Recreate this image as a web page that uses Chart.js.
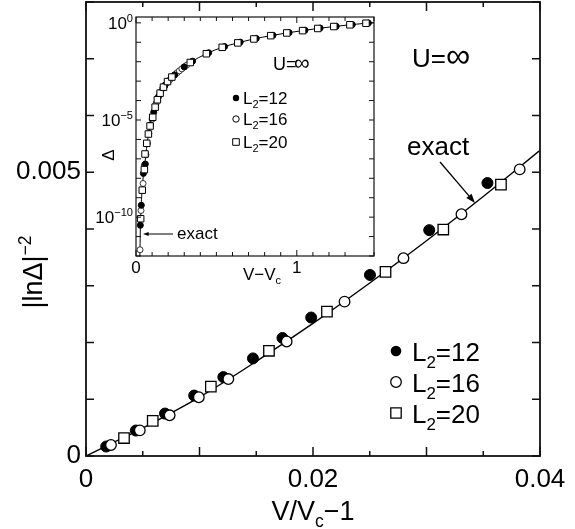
<!DOCTYPE html>
<html>
<head>
<meta charset="utf-8">
<script src="https://cdn.jsdelivr.net/npm/chart.js@4.4.1/dist/chart.umd.min.js"></script>
<style>
  html, body { margin: 0; padding: 0; background: #fff; }
  #wrap { position: relative; width: 575px; height: 529px; }
  #main { position: absolute; left: 0; top: 0; }
  #inset { position: absolute; left: 86px; top: 0; }
</style>
</head>
<body>
<div id="wrap">
  <canvas id="main" width="575" height="529"></canvas>
  <canvas id="inset" width="300" height="290"></canvas>
</div>
<script>
const FONT = '"Liberation Sans", Arial, Helvetica, sans-serif';

// ---- main panel: |ln Δ|^-2 against V/Vc - 1
const mainXLabelVals = [0, 0.02, 0.04];
const mainXLabels    = ['0', '0.02', '0.04'];
const mainYLabelVals = [0, 0.005];
const mainYLabels    = ['0', '0.005'];

const exactX = [0, 0.0025, 0.005, 0.01, 0.015, 0.02, 0.025, 0.03, 0.035, 0.04];
const exactY = [0, 0.000246, 0.000493, 0.001037, 0.001667, 0.002336, 0.003048, 0.003794, 0.004572, 0.005387];

const l12X = [0.00178, 0.00439, 0.00696, 0.00953, 0.0121, 0.01471, 0.01731, 0.01984, 0.02502, 0.03024, 0.03537];
const l12Y = [0.000167, 0.000449, 0.000748, 0.001065, 0.00139, 0.00172, 0.00208, 0.00244, 0.00319, 0.00398, 0.00481];

const l16X = [0.0022, 0.00474, 0.00737, 0.00994, 0.01254, 0.01768, 0.02278, 0.02797, 0.03308, 0.03821];
const l16Y = [0.000194, 0.000452, 0.000717, 0.001035, 0.001356, 0.002018, 0.00272, 0.003486, 0.00426, 0.00505];

const l20X = [0.00335, 0.00588, 0.011, 0.01612, 0.02123, 0.02639, 0.03148, 0.03656];
const l20Y = [0.000317, 0.00062, 0.001222, 0.001854, 0.002544, 0.003245, 0.003991, 0.004783];

// ---- inset: Δ (log) against V - Vc
const insetXLabelVals = [0, 1];
const insetXLabels    = ['0', '1'];
const insetYTicks = [1e-12, 1e-11, 1e-10, 1e-9, 1e-8, 1e-7, 1e-6, 1e-5, 1e-4, 1e-3, 1e-2, 1e-1, 1];
const insetYLabelVals = [1, 1e-5, 1e-10];
const insetYLabelExp  = ['0', '−5', '−10'];

const inExactX = [0.024, 0.025, 0.027, 0.029, 0.031, 0.034, 0.039, 0.045, 0.052, 0.06, 0.067, 0.077, 0.0875,
  0.104, 0.119, 0.133, 0.15, 0.171, 0.196, 0.223, 0.26, 0.3, 0.3375, 0.4375, 0.536, 0.633, 0.733, 0.8375,
  0.9375, 1.036, 1.13, 1.23, 1.33, 1.43, 1.48];
const inExactY = [1e-12, 2.5e-12, 2.5e-11, 8.3e-11, 2.5e-10, 7.9e-10, 3.2e-9, 1.26e-8, 4.0e-8, 1.26e-7, 4.5e-7,
  1.58e-6, 4.5e-6, 1.58e-5, 5.0e-5, 1.1e-4, 2.5e-4, 5.0e-4, 9.5e-4, 1.62e-3, 3.0e-3, 5.4e-3, 9.1e-3, 2.57e-2,
  5.5e-2, 0.093, 0.148, 0.219, 0.302, 0.398, 0.513, 0.646, 0.794, 0.955, 1.02];

const in12X = [0.027, 0.033, 0.046, 0.058, 0.07, 0.09, 0.11, 0.14, 0.18, 0.24, 0.30, 0.352, 0.452, 0.551,
  0.648, 0.748, 0.852, 0.952, 1.051, 1.145, 1.245, 1.345, 1.445];
const in12Y = [3.8e-11, 4.1e-10, 1.78e-8, 5.4e-8, 6.3e-7, 5.6e-6, 2.5e-5, 1.6e-4, 6.0e-4, 2.1e-3, 5.4e-3,
  1.07e-2, 2.9e-2, 6.0e-2, 0.102, 0.158, 0.229, 0.316, 0.417, 0.537, 0.661, 0.813, 0.977];

const in16X = [0.025, 0.031, 0.044, 0.052, 0.062, 0.08, 0.10, 0.125, 0.15, 0.165, 0.18, 0.195, 0.21, 0.225,
  0.24, 0.255, 0.27, 0.285, 0.30, 0.315];
const in16Y = [2.1e-12, 2.2e-10, 5.4e-9, 4.8e-8, 1.6e-7, 2.0e-6, 1.1e-5, 7.1e-5, 2.6e-4, 4.2e-4, 6.2e-4,
  8.7e-4, 1.17e-3, 1.62e-3, 2.1e-3, 2.7e-3, 3.4e-3, 4.3e-3, 5.4e-3, 6.6e-3];

const in20X = [0.029, 0.039, 0.052, 0.056, 0.067, 0.077, 0.0875, 0.104, 0.119, 0.133, 0.15, 0.171, 0.196,
  0.223, 0.3375, 0.4375, 0.536, 0.633, 0.733, 0.8375, 0.9375, 1.036, 1.13, 1.23, 1.33, 1.43];
const in20Y = [8.3e-11, 2.45e-9, 2.8e-8, 1.78e-7, 6.3e-7, 1.9e-6, 4.9e-6, 1.38e-5, 4.57e-5, 1.1e-4, 2.4e-4,
  4.9e-4, 9.5e-4, 1.62e-3, 9.1e-3, 2.57e-2, 5.5e-2, 0.093, 0.148, 0.219, 0.302, 0.398, 0.513, 0.646, 0.794, 0.955];

const pts = (xs, ys) => xs.map((x, i) => ({ x, y: ys[i] }));
const pick = (vals, labels) => v => {
  const i = vals.findIndex(t => Math.abs(t - v) < 1e-9);
  return i >= 0 ? labels[i] : '';
};

// pin the plot box to fixed pixels after Chart.js has done its layout
function pinArea(box) {
  return {
    id: 'pinArea',
    afterLayout(chart) {
      const a = chart.chartArea, { x, y } = chart.scales;
      Object.assign(a, box, { width: box.right - box.left, height: box.bottom - box.top });
      x.left = box.left; x.right = box.right; x.width = box.right - box.left;
      x.top = box.bottom; x.bottom = chart.height; x.height = x.bottom - x.top;
      y.left = 0; y.right = box.left; y.width = box.left;
      y.top = box.top; y.bottom = box.bottom; y.height = box.bottom - box.top;
      x.configure();
      y.configure();
    }
  };
}

// text with sub/superscripts: parts = [[text, 'sub'|'sup'|undefined], ...]
function rich(ctx, parts, x, y, size, align) {
  const small = size * 0.65;
  let w = 0;
  parts.forEach(([t, k]) => {
    ctx.font = `${k ? small : size}px ${FONT}`;
    w += ctx.measureText(t).width;
  });
  let cx = align === 'center' ? x - w / 2 : align === 'right' ? x - w : x;
  ctx.textAlign = 'left';
  ctx.textBaseline = 'alphabetic';
  parts.forEach(([t, k]) => {
    ctx.font = `${k ? small : size}px ${FONT}`;
    const dy = k === 'sub' ? size * 0.25 : k === 'sup' ? -size * 0.42 : 0;
    ctx.fillText(t, cx, y + dy);
    cx += ctx.measureText(t).width;
  });
}

function arrow(ctx, x1, y1, x2, y2, head, lw) {
  const a = Math.atan2(y2 - y1, x2 - x1);
  ctx.lineWidth = lw;
  ctx.beginPath();
  ctx.moveTo(x1, y1);
  ctx.lineTo(x2 - Math.cos(a) * head * 0.8, y2 - Math.sin(a) * head * 0.8);
  ctx.stroke();
  ctx.beginPath();
  ctx.moveTo(x2, y2);
  ctx.lineTo(x2 - head * Math.cos(a - 0.35), y2 - head * Math.sin(a - 0.35));
  ctx.lineTo(x2 - head * Math.cos(a + 0.35), y2 - head * Math.sin(a + 0.35));
  ctx.closePath();
  ctx.fill();
}

function marker(ctx, kind, x, y, r) {
  ctx.beginPath();
  if (kind === 'rect') ctx.rect(x - r, y - r, 2 * r, 2 * r);
  else ctx.arc(x, y, r, 0, Math.PI * 2);
  if (kind === 'filled') { ctx.fillStyle = '#000'; ctx.fill(); }
  else { ctx.fillStyle = '#fff'; ctx.fill(); ctx.stroke(); }
}

// frame round the plot area and inward ticks on all four sides
function frameTicks(o) {
  return {
    id: 'frameTicks',
    beforeDraw(chart) {
      if (!o.fill) return;
      const a = chart.chartArea, ctx = chart.ctx;
      ctx.save();
      ctx.fillStyle = '#fff';
      ctx.fillRect(a.left, a.top, a.right - a.left, a.bottom - a.top);
      ctx.restore();
    },
    afterDraw(chart) {
      const { ctx, chartArea: a, scales } = chart;
      ctx.save();
      ctx.strokeStyle = '#111';
      ctx.lineWidth = o.frame;
      ctx.strokeRect(a.left, a.top, a.right - a.left, a.bottom - a.top);
      ctx.lineWidth = o.tick;
      ctx.beginPath();
      scales.x.ticks.forEach(t => {
        const px = scales.x.getPixelForValue(t.value), len = o.xLen(t.value);
        ctx.moveTo(px, a.bottom); ctx.lineTo(px, a.bottom - len);
        ctx.moveTo(px, a.top); ctx.lineTo(px, a.top + len);
      });
      scales.y.ticks.forEach(t => {
        const py = scales.y.getPixelForValue(t.value), len = o.yLen(t.value);
        ctx.moveTo(a.left, py); ctx.lineTo(a.left + len, py);
        ctx.moveTo(a.right, py); ctx.lineTo(a.right - len, py);
      });
      ctx.stroke();
      ctx.restore();
    }
  };
}

const mainText = {
  id: 'mainText',
  afterDraw(chart) {
    const ctx = chart.ctx;
    ctx.save();
    ctx.fillStyle = '#000';
    ctx.strokeStyle = '#000';
    rich(ctx, [['V/V'], ['c', 'sub'], ['−1']], 313, 520, 27, 'center');
    ctx.save();
    ctx.translate(42, 272);
    ctx.rotate(-Math.PI / 2);
    rich(ctx, [['|lnΔ|'], ['−2', 'sup']], 0, 0, 27, 'center');
    ctx.restore();

    ctx.font = `26px ${FONT}`;
    ctx.fillText('U=', 412, 67);
    ctx.font = `34px ${FONT}`;
    ctx.fillText('∞', 446, 67);

    ctx.font = `26px ${FONT}`;
    ctx.fillText('exact', 407, 155);
    arrow(ctx, 440, 162, 475, 203, 10, 1.3);

    const rows = [['filled', '12', 351], ['open', '16', 382], ['rect', '20', 413]];
    ctx.lineWidth = 1.3;
    rows.forEach(([k, n, y]) => {
      ctx.strokeStyle = '#000';
      marker(ctx, k, 396, y, k === 'rect' ? 5.2 : 5.3);
      ctx.fillStyle = '#000';
      rich(ctx, [['L'], ['2', 'sub'], ['=' + n]], 412, y + 10, 26, 'left');
    });
    ctx.restore();
  }
};

const insetText = {
  id: 'insetText',
  afterDraw(chart) {
    const ctx = chart.ctx, a = chart.chartArea, ys = chart.scales.y;
    ctx.save();
    ctx.fillStyle = '#000';
    ctx.strokeStyle = '#000';
    insetYLabelVals.forEach((v, i) => {
      const py = ys.getPixelForValue(v);
      rich(ctx, [['10'], [insetYLabelExp[i], 'sup']], a.left - 3, py + 6, 17, 'right');
    });
    const ox = -86;
    rich(ctx, [['V−V'], ['c', 'sub']], 262 + ox, 280, 17, 'center');
    ctx.save();
    ctx.translate(114 + ox, 155);
    ctx.rotate(-Math.PI / 2);
    ctx.font = `17px ${FONT}`;
    ctx.textAlign = 'center';
    ctx.fillText('Δ', 0, 0);
    ctx.restore();

    ctx.font = `18px ${FONT}`;
    ctx.fillText('U=', 273 + ox, 70);
    ctx.font = `22px ${FONT}`;
    ctx.fillText('∞', 294 + ox, 70);

    ctx.font = `17px ${FONT}`;
    ctx.fillText('exact', 177 + ox, 239);
    arrow(ctx, 173 + ox, 234, 143 + ox, 234, 6, 1);

    const rows = [['filled', '12', 98], ['open', '16', 119], ['rect', '20', 142]];
    ctx.lineWidth = 1;
    rows.forEach(([k, n, y]) => {
      ctx.strokeStyle = '#000';
      marker(ctx, k, 236 + ox, y, k === 'rect' ? 3.3 : 3.2);
      ctx.fillStyle = '#000';
      rich(ctx, [['L'], ['2', 'sub'], ['=' + n]], 243 + ox, y + 6, 17, 'left');
    });
    ctx.restore();
  }
};

new Chart(document.getElementById('main'), {
  type: 'scatter',
  data: {
    datasets: [
      { label: 'exact', data: pts(exactX, exactY), showLine: true, borderColor: '#000', borderWidth: 1.4,
        pointRadius: 0, cubicInterpolationMode: 'monotone', order: 4 },
      { label: 'L2=16', data: pts(l16X, l16Y), pointStyle: 'circle', pointRadius: 5.3,
        backgroundColor: '#fff', borderColor: '#000', borderWidth: 1.3, order: 1 },
      { label: 'L2=20', data: pts(l20X, l20Y), pointStyle: 'rect', pointRadius: 7.4,
        backgroundColor: '#fff', borderColor: '#000', borderWidth: 1.3, order: 2 },
      { label: 'L2=12', data: pts(l12X, l12Y), pointStyle: 'circle', pointRadius: 5.5,
        backgroundColor: '#000', borderColor: '#000', borderWidth: 1, order: 3 },
    ],
  },
  options: {
    responsive: false,
    animation: false,
    devicePixelRatio: 1,
    layout: { padding: { top: 2, right: 35, left: 0, bottom: 0 } },
    plugins: { legend: { display: false }, tooltip: { enabled: false } },
    scales: {
      x: {
        type: 'linear', min: 0, max: 0.04,
        grid: { display: false, drawTicks: false }, border: { display: false },
        ticks: { stepSize: 0.005, autoSkip: false, maxRotation: 0, padding: 8, color: '#000',
          font: { family: FONT, size: 26 }, callback: pick(mainXLabelVals, mainXLabels) },
      },
      y: {
        type: 'linear', min: 0, max: 0.008,
        grid: { display: false, drawTicks: false }, border: { display: false },
        ticks: { stepSize: 0.001, autoSkip: false, padding: 5, color: '#000',
          font: { family: FONT, size: 26 }, callback: pick(mainYLabelVals, mainYLabels) },
      },
    },
  },
  plugins: [
    pinArea({ left: 86, right: 540, top: 2, bottom: 456 }),
    frameTicks({ frame: 1.8, tick: 1.5,
      xLen: v => (Math.round(v / 0.005) % 2 === 0 ? 9 : 5),
      yLen: () => 8 }),
    mainText,
  ],
});

new Chart(document.getElementById('inset'), {
  type: 'scatter',
  data: {
    datasets: [
      { label: 'exact', data: pts(inExactX, inExactY), showLine: true, borderColor: '#000', borderWidth: 1,
        pointRadius: 0, cubicInterpolationMode: 'monotone', order: 4 },
      { label: 'L2=16', data: pts(in16X, in16Y), pointStyle: 'circle', pointRadius: 3,
        backgroundColor: '#fff', borderColor: '#333', borderWidth: 1, order: 3 },
      { label: 'L2=12', data: pts(in12X, in12Y), pointStyle: 'circle', pointRadius: 3,
        backgroundColor: '#000', borderColor: '#000', borderWidth: 1, order: 2 },
      { label: 'L2=20', data: pts(in20X, in20Y), pointStyle: 'rect', pointRadius: 4.6,
        backgroundColor: '#fff', borderColor: '#000', borderWidth: 1, order: 1 },
    ],
  },
  options: {
    responsive: false,
    animation: false,
    devicePixelRatio: 1,
    layout: { padding: { top: 17, right: 12, left: 0, bottom: 0 } },
    plugins: { legend: { display: false }, tooltip: { enabled: false } },
    scales: {
      x: {
        type: 'linear', min: 0, max: 1.48,
        grid: { display: false, drawTicks: false }, border: { display: false },
        ticks: { stepSize: 0.1, autoSkip: false, maxRotation: 0, padding: 2, color: '#000',
          font: { family: FONT, size: 17 }, callback: pick(insetXLabelVals, insetXLabels) },
      },
      y: {
        type: 'logarithmic', min: 1e-12, max: 2,
        grid: { display: false, drawTicks: false }, border: { display: false },
        ticks: { display: false },
        afterBuildTicks: s => { s.ticks = insetYTicks.map(v => ({ value: v })); },
      },
    },
  },
  plugins: [
    pinArea({ left: 50, right: 288, top: 17, bottom: 256 }),
    frameTicks({ fill: true, frame: 1.2, tick: 1,
      xLen: v => (Math.abs(v) < 1e-9 || Math.abs(v - 1) < 1e-9 ? 6 : 4),
      yLen: () => 5 }),
    insetText,
  ],
});
</script>
</body>
</html>
